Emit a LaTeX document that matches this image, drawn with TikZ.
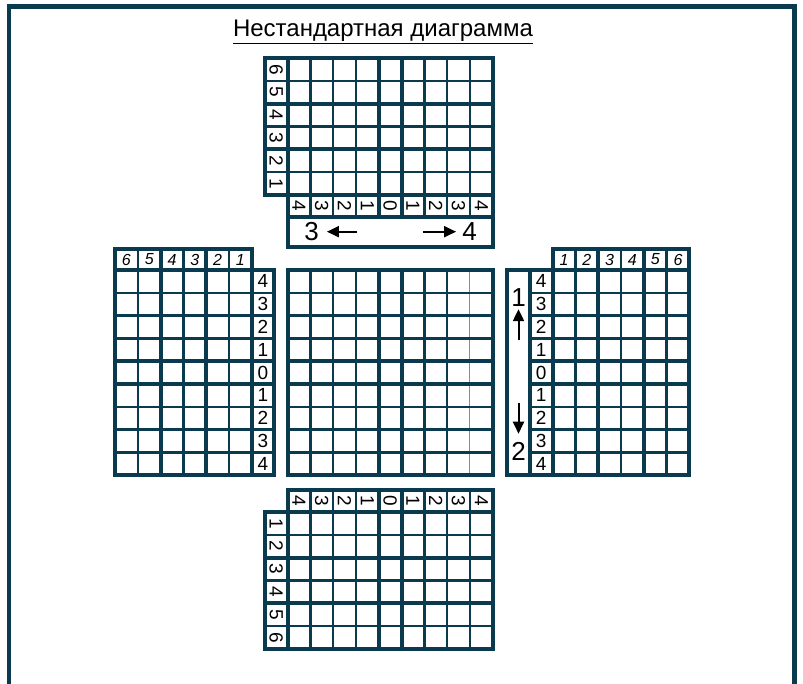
\documentclass[tikz,border=0pt]{standalone}
\usepackage{fontspec}
\setmainfont{Liberation Sans}
\usetikzlibrary{arrows.meta,positioning}
\definecolor{ink}{RGB}{10,58,78}

\begin{document}
\begin{tikzpicture}[x=1pt,y=-1pt,
  gline/.style={ink,line width=2.4pt},
  bline/.style={ink,line width=4pt},
  edge/.style={ink,line width=4pt,line join=miter},
  num/.style={inner sep=0pt,font=\fontsize{19}{19}\selectfont},
  inum/.style={inner sep=0pt,font=\fontsize{16}{16}\selectfont\itshape},
  rnum/.style={num,rotate=-90},
  big/.style={inner sep=0pt,font=\fontsize{26}{26}\selectfont},
  arr/.style={-{Triangle[length=12pt,width=11pt]},line width=2pt,black}]
  \useasboundingbox (0,0) rectangle (803,684);
  % page frame
  \draw[ink,line width=4.5pt] (9,684) -- (9,6.5) -- (794.5,6.5) -- (794.5,684);
  \node[anchor=base,font=\fontsize{24}{28}\selectfont] (title) at (383,37)
     {\underline{Нестандартная диаграмма}};

  % central grid
  \foreach \i in {1,2,3,6,7} \draw[gline] (287.5+22.8*\i,270) -- (287.5+22.8*\i,475.2);
  \draw[ink!55,line width=1pt] (469.9,270) -- (469.9,475.2);
  \foreach \j in {1,2,3,6,7,8} \draw[gline] (287.5,270+22.8*\j) -- (492.7,270+22.8*\j);
  \foreach \i in {4,5} \draw[bline] (287.5+22.8*\i,270) -- (287.5+22.8*\i,475.2);
  \foreach \j in {4,5} \draw[bline] (287.5,270+22.8*\j) -- (492.7,270+22.8*\j);
  \draw[edge] (287.5,270) rectangle (492.7,475.2);

  % top block
  \foreach \i in {1,2,3,6,7,8} \draw[gline] (287.5+22.8*\i,58) -- (287.5+22.8*\i,216.7);
  \foreach \j in {1,3,5} \draw[gline] (265,58+22.8*\j) -- (492.7,58+22.8*\j);
  \foreach \i in {4,5} \draw[bline] (287.5+22.8*\i,58) -- (287.5+22.8*\i,216.7);
  \foreach \j in {2,4} \draw[bline] (265,58+22.8*\j) -- (492.7,58+22.8*\j);
  \draw[bline] (287.5,58) -- (287.5,216.7);
  \draw[bline] (265,194.8) -- (492.7,194.8);
  \draw[bline] (287.5,216.7) -- (492.7,216.7);
  \draw[edge] (265,58) -- (492.7,58) -- (492.7,246.7) -- (287.5,246.7)
     -- (287.5,194.8) -- (265,194.8) -- cycle;

  % left block
  \foreach \i in {1,3,5} \draw[gline] (115+22.8*\i,249) -- (115+22.8*\i,475.2);
  \foreach \j in {1,2,3,6,7,8} \draw[gline] (115,270+22.8*\j) -- (274,270+22.8*\j);
  \foreach \i in {2,4} \draw[bline] (115+22.8*\i,249) -- (115+22.8*\i,475.2);
  \foreach \j in {4,5} \draw[bline] (115,270+22.8*\j) -- (274,270+22.8*\j);
  \draw[bline] (251.8,249) -- (251.8,475.2);
  \draw[bline] (115,270) -- (274,270);
  \draw[edge] (115,249) -- (251.8,249) -- (251.8,270) -- (274,270)
     -- (274,475.2) -- (115,475.2) -- cycle;

  % right block
  \foreach \i in {1,3,5} \draw[gline] (552.6+22.8*\i,249) -- (552.6+22.8*\i,475.2);
  \foreach \j in {1,2,3,6,7,8} \draw[gline] (529.8,270+22.8*\j) -- (689.4,270+22.8*\j);
  \foreach \i in {2,4} \draw[bline] (552.6+22.8*\i,249) -- (552.6+22.8*\i,475.2);
  \foreach \j in {4,5} \draw[bline] (529.8,270+22.8*\j) -- (689.4,270+22.8*\j);
  \draw[bline] (529.8,270) -- (529.8,475.2);
  \draw[bline] (552.6,249) -- (552.6,475.2);
  \draw[bline] (507,270) -- (689.4,270);
  \draw[edge] (507,270) -- (552.6,270) -- (552.6,249) -- (689.4,249)
     -- (689.4,475.2) -- (507,475.2) -- cycle;

  % bottom block
  \foreach \i in {1,2,3,6,7,8} \draw[gline] (287.5+22.8*\i,490) -- (287.5+22.8*\i,648.8);
  \foreach \j in {1,3,5} \draw[gline] (265,512+22.8*\j) -- (492.7,512+22.8*\j);
  \foreach \i in {4,5} \draw[bline] (287.5+22.8*\i,490) -- (287.5+22.8*\i,648.8);
  \foreach \j in {2,4} \draw[bline] (265,512+22.8*\j) -- (492.7,512+22.8*\j);
  \draw[bline] (287.5,490) -- (287.5,648.8);
  \draw[bline] (265,512) -- (492.7,512);
  \draw[edge] (287.5,490) -- (492.7,490) -- (492.7,648.8) -- (265,648.8)
     -- (265,512) -- (287.5,512) -- cycle;

  % labels
  \foreach \v [count=\k] in {6,5,4,3,2,1}
    \node[rnum] (tc\k) at (276.25,58+22.8*\k-11.4) {\v};
  \foreach \v [count=\k] in {4,3,2,1,0,1,2,3,4}
    \node[rnum] (tr\k) at (287.5+22.8*\k-11.4,205.75) {\v};
  \foreach \v [count=\k] in {6,5,4,3,2,1}
    \node[inum] (lr\k) at (115+22.8*\k-11.4,259.5) {\v};
  \foreach \v [count=\k] in {4,3,2,1,0,1,2,3,4}
    \node[num] (lc\k) at (262.9,270+22.8*\k-11.4) {\v};
  \foreach \v [count=\k] in {1,...,6}
    \node[inum] (rr\k) at (552.6+22.8*\k-11.4,259.5) {\v};
  \foreach \v [count=\k] in {4,3,2,1,0,1,2,3,4}
    \node[num] (rc\k) at (541.2,270+22.8*\k-11.4) {\v};
  \foreach \v [count=\k] in {4,3,2,1,0,1,2,3,4}
    \node[rnum] (br\k) at (287.5+22.8*\k-11.4,501) {\v};
  \foreach \v [count=\k] in {1,...,6}
    \node[rnum] (bc\k) at (276.25,512+22.8*\k-11.4) {\v};

  % direction arrows
  \node[big] (n3) at (311.5,231.7) {3};
  \node[big] (n4) at (469.5,231.7) {4};
  \coordinate (a3) at (357,231.7);
  \coordinate (a4) at (423,231.7);
  \draw[arr,shorten >=8pt] (a3) -- (n3);
  \draw[arr,shorten >=6pt] (a4) -- (n4);
  \node[big] (n1) at (518.5,298) {1};
  \node[big] (n2) at (518.5,451) {2};
  \coordinate (a1) at (518.5,340);
  \coordinate (a2) at (518.5,403);
  \draw[arr,shorten >=2pt] (a1) -- (n1);
  \draw[arr,shorten >=8pt] (a2) -- (n2);
\end{tikzpicture}
\end{document}
